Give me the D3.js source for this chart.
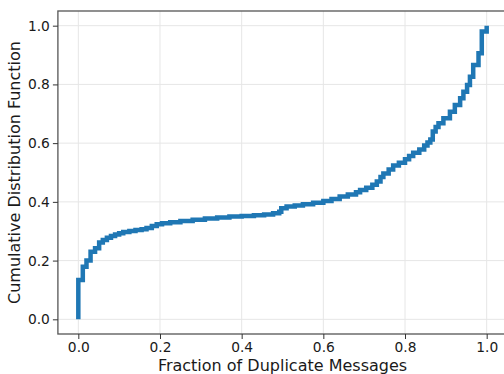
<!DOCTYPE html>
<html>
<head>
<meta charset="utf-8">
<script src="https://cdn.jsdelivr.net/npm/d3@7"></script>
<style>
  html, body { margin: 0; padding: 0; background: #fff; }
  svg { display: block; }
  text { font-family: "DejaVu Sans", sans-serif; fill: #1a1a1a; }
</style>
</head>
<body>
<svg id="chart" width="504" height="374"></svg>
<script>
// Step points of the empirical CDF (x = fraction of duplicate messages, y = CDF)
const fractionValues = [
  0, 0, 0.011, 0.020, 0.030, 0.041, 0.051, 0.060, 0.070, 0.080, 0.090, 0.100,
  0.110, 0.125, 0.140, 0.155, 0.167, 0.180, 0.192, 0.205, 0.225, 0.250, 0.280,
  0.310, 0.340, 0.370, 0.400, 0.430, 0.455, 0.477, 0.492, 0.497, 0.510, 0.530,
  0.550, 0.575, 0.600, 0.620, 0.640, 0.660, 0.680, 0.690, 0.705, 0.720, 0.731,
  0.740, 0.747, 0.760, 0.771, 0.785, 0.800, 0.810, 0.820, 0.835, 0.847, 0.855,
  0.862, 0.868, 0.875, 0.882, 0.894, 0.910, 0.922, 0.935, 0.943, 0.952, 0.959,
  0.967, 0.980, 0.988, 1.000
];
const cdfValues = [
  0, 0.134, 0.179, 0.200, 0.230, 0.242, 0.262, 0.270, 0.278, 0.284, 0.289, 0.293,
  0.297, 0.301, 0.304, 0.307, 0.311, 0.318, 0.324, 0.327, 0.331, 0.335, 0.339,
  0.343, 0.347, 0.350, 0.352, 0.354, 0.357, 0.361, 0.366, 0.378, 0.384, 0.388,
  0.392, 0.397, 0.403, 0.410, 0.418, 0.425, 0.433, 0.440, 0.448, 0.458, 0.469,
  0.485, 0.497, 0.510, 0.524, 0.533, 0.545, 0.556, 0.567, 0.578, 0.592, 0.602,
  0.612, 0.640, 0.655, 0.668, 0.685, 0.707, 0.730, 0.753, 0.775, 0.798, 0.826,
  0.866, 0.906, 0.980, 1.000
];
const xTicks = [0, 0.2, 0.4, 0.6, 0.8, 1.0];
const yTicks = [0, 0.2, 0.4, 0.6, 0.8, 1.0];
const xLabel = "Fraction of Duplicate Messages";
const yLabel = "Cumulative Distribution Function";

const svg = d3.select("#chart");
const mLeft = 57.9, mRight = 507.1, mTop = 11, mBottom = 334;

const x = d3.scaleLinear().domain([-0.05, 1.05]).range([mLeft, mRight]);
const y = d3.scaleLinear().domain([-0.05, 1.05]).range([mBottom, mTop]);

// grid
const grid = svg.append("g");
grid.selectAll("line.gx").data(xTicks).join("line")
  .attr("x1", d => x(d)).attr("x2", d => x(d))
  .attr("y1", mTop).attr("y2", mBottom)
  .attr("stroke", "#e6e6e6").attr("stroke-width", 1);
grid.selectAll("line.gy").data(yTicks).join("line")
  .attr("y1", d => y(d)).attr("y2", d => y(d))
  .attr("x1", mLeft).attr("x2", mRight)
  .attr("stroke", "#e6e6e6").attr("stroke-width", 1);

// line
const pts = fractionValues.map((v, i) => [v, cdfValues[i]]);
const line = d3.line().x(d => x(d[0])).y(d => y(d[1])).curve(d3.curveStepAfter);
svg.append("path").datum(pts)
  .attr("d", line)
  .attr("fill", "none")
  .attr("stroke", "#1f77b4")
  .attr("stroke-width", 4.5)
  .attr("stroke-linejoin", "miter")
  .attr("stroke-linecap", "butt");

// spines
svg.append("rect")
  .attr("x", mLeft).attr("y", mTop)
  .attr("width", mRight - mLeft).attr("height", mBottom - mTop)
  .attr("fill", "none").attr("stroke", "#555").attr("stroke-width", 1.3);

// axes
const xAxis = d3.axisBottom(x).tickValues(xTicks).tickFormat(d3.format(".1f"))
  .tickSizeInner(5).tickSizeOuter(0).tickPadding(3);
const gx = svg.append("g").attr("transform", `translate(0,${mBottom})`).call(xAxis);
gx.select(".domain").remove();
gx.selectAll("line").attr("stroke", "#333");
gx.selectAll("text").attr("font-size", 13.8).attr("font-family", "DejaVu Sans").attr("fill", "#1a1a1a");

const yAxis = d3.axisLeft(y).tickValues(yTicks).tickFormat(d3.format(".1f"))
  .tickSizeInner(5).tickSizeOuter(0).tickPadding(3);
const gy = svg.append("g").attr("transform", `translate(${mLeft},0)`).call(yAxis);
gy.select(".domain").remove();
gy.selectAll("line").attr("stroke", "#333");
gy.selectAll("text").attr("font-size", 13.8).attr("font-family", "DejaVu Sans").attr("fill", "#1a1a1a");

// labels
svg.append("text")
  .attr("x", (mLeft + mRight) / 2).attr("y", 371)
  .attr("text-anchor", "middle").attr("font-size", 16)
  .text(xLabel);
svg.append("text")
  .attr("transform", `translate(20,${(mTop + mBottom) / 2}) rotate(-90)`)
  .attr("text-anchor", "middle").attr("font-size", 16)
  .text(yLabel);
</script>
</body>
</html>
